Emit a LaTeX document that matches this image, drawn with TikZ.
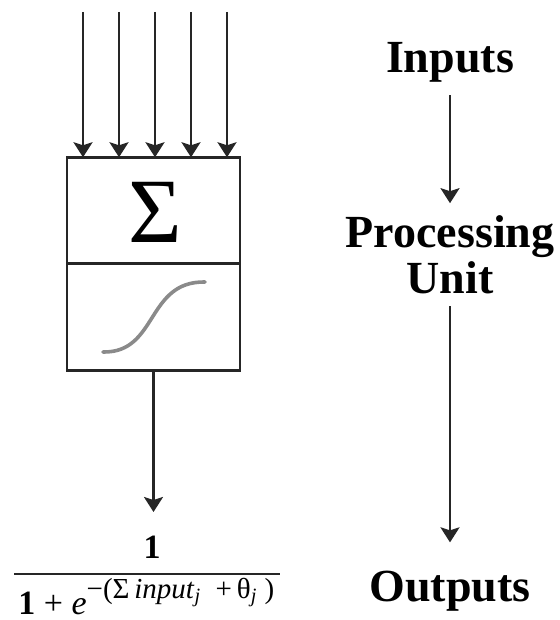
\documentclass[tikz,border=0pt]{standalone}
\usepackage{fontspec}
\setmainfont{Liberation Serif}
\usepackage{xcolor}
\definecolor{ink}{HTML}{262626}
\definecolor{curve}{HTML}{8a8a8a}
\usetikzlibrary{arrows.meta, positioning}

\begin{document}
\begin{tikzpicture}[
  x=0.5pt, y=-0.5pt,
  every node/.style={align=center},
  unit/.style={rectangle, draw=ink, line width=1.3pt, outer sep=0pt, inner sep=0pt,
    minimum width=86.5pt, minimum height=53.25pt},
  caption/.style={font=\fontsize{23}{23}\selectfont\bfseries, inner sep=6pt},
  formula/.style={font=\fontsize{17}{17}\selectfont, inner sep=0pt},
  arrow/.style={-{Stealth[length=7.5pt, width=9.5pt, inset=1.5pt]}, line width=1.2pt, color=ink},
  sigmoid/.style={line width=1.8pt, color=curve, line cap=round},
]
  \useasboundingbox (0,0) rectangle (560,620);

  \node[unit] (sum) at (153.5,210.5) {};
  \node[unit, below=0pt of sum] (act) {};
  \node[font=\fontsize{46}{46}\selectfont] (sigma) at (155,212) {Σ};
  \draw[sigmoid] (103,352) .. controls (158,353) and (146,281) .. (205,282);

  \foreach \x [count=\i] in {83,119,155,191,227} {
    \coordinate (in\i) at (\x,12);
    \draw[arrow] (in\i) -- (in\i |- sum.north);
  }

  \coordinate (tip) at (153.5,512);
  \draw[arrow] (act.south) -- (tip);

  \node[formula, font=\fontsize{17}{17}\selectfont\bfseries] (num) at (152,547) {1};
  \draw[line width=1.3pt, color=ink] (14,574) -- (280,574);
  \node[formula, anchor=base west] (den) at (18,614)
    {{\bfseries 1} + \textit{e}\raisebox{8pt}{\fontsize{14.5}{14.5}\selectfont
      −(Σ\,\textit{input}\textsubscript{\textit{j}}\ \ +\,θ\textsubscript{\textit{j}}\ )}};

  \node[caption, anchor=base] (inputs) at (450,73) {Inputs};
  \node[caption, below=54pt of inputs] (proc) {Processing\\Unit};
  \node[caption, below=126pt of proc] (outputs) {Outputs};

  \draw[arrow] (inputs) -- (proc);
  \draw[arrow, shorten >=8pt] (proc) -- (outputs);
\end{tikzpicture}
\end{document}
